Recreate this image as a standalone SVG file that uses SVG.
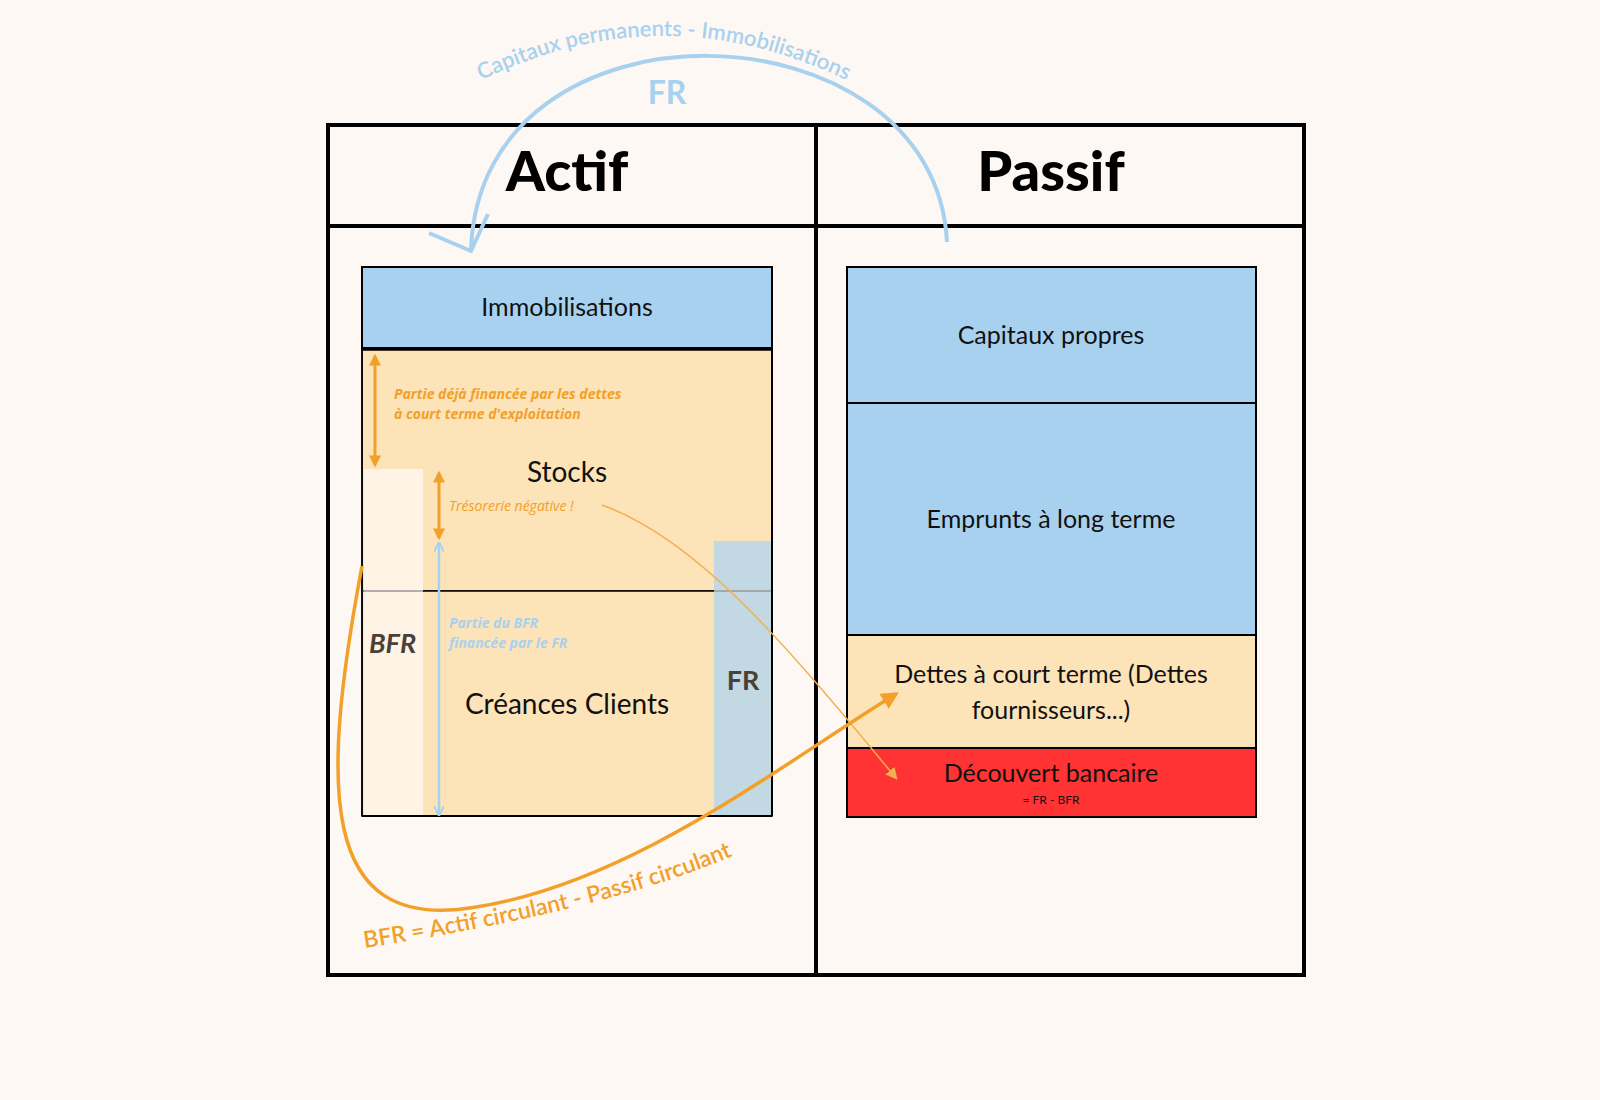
<svg xmlns="http://www.w3.org/2000/svg" width="1600" height="1100" viewBox="0 0 1600 1100">
<style>
text{font-family:Lato,"Open Sans","Liberation Sans",sans-serif}
.lbl{font-size:25px;fill:#111;text-anchor:middle}
.hd{font-size:56px;font-weight:900;fill:#000;text-anchor:middle}
.ann{font-family:"Open Sans",Lato,sans-serif;font-size:14px;font-weight:bold;font-style:italic;fill:#f2a02a}
.annb{font-family:"Open Sans",Lato,sans-serif;font-size:14px;font-weight:bold;font-style:italic;fill:#a8d1f0}
.big{font-size:27px;font-weight:bold;fill:#4a4036}
</style>
<defs>
<marker id="ao" viewBox="0 0 10 10" refX="8" refY="5" markerWidth="4" markerHeight="4" orient="auto-start-reverse"><path d="M0,0 L10,5 L0,10 z" fill="#f2a02a"/></marker>
<marker id="ab" viewBox="0 0 10 10" refX="8" refY="5" markerWidth="4" markerHeight="4" orient="auto-start-reverse"><path d="M0,0 L10,5 L0,10" fill="none" stroke="#a8d1f0" stroke-width="2"/></marker>
<marker id="ao2" viewBox="0 0 10 10" refX="8" refY="5" markerWidth="5" markerHeight="5" orient="auto"><path d="M0,0 L10,5 L0,10 z" fill="#f2a02a"/></marker>
<marker id="ao3" viewBox="0 0 10 10" refX="8" refY="5" markerWidth="8" markerHeight="8" orient="auto"><path d="M0,0 L10,5 L0,10 z" fill="#f2b050"/></marker>
<path id="tpBlue" d="M470,86 Q663,-14 858,86"/>
<path id="tpOr" d="M365,948 C480,930 640,900 750,848"/>
</defs>
<rect width="1600" height="1100" fill="#fdf8f3"/>
<g id="frame" fill="none" stroke="#000" stroke-width="4">
<rect x="328" y="125" width="976" height="850"/>
<line x1="816" y1="125" x2="816" y2="975"/>
<line x1="328" y1="226" x2="1304" y2="226"/>
</g>
<text class="hd" x="567" y="191">Actif</text>
<text class="hd" x="1051" y="191">Passif</text>
<g id="immobilisations"><rect x="362" y="267" width="410" height="82" fill="#a8d1f0" stroke="#000" stroke-width="2"/><line x1="362" y1="349" x2="772" y2="349" stroke="#000" stroke-width="4"/><text class="lbl" x="567" y="316">Immobilisations</text></g>
<g id="stocks"><rect x="362" y="350" width="410" height="241" fill="#fde3b8" stroke="#000" stroke-width="1.5"/><text class="lbl" x="567" y="482" style="font-size:28px">Stocks</text></g>
<g id="creances"><rect x="362" y="591" width="410" height="225" fill="#fde3b8" stroke="#000" stroke-width="1.5"/><text class="lbl" x="567" y="714" style="font-size:28px">Créances Clients</text></g>
<g id="bfr"><rect x="364" y="469" width="59" height="346" fill="#fff3e6"/><line x1="362" y1="591" x2="423" y2="591" stroke="#999" stroke-width="1.5"/><text class="big" x="369" y="653" font-style="italic">BFR</text></g>
<g id="fr"><rect x="714" y="541" width="57" height="274" fill="#c2d9e3"/><line x1="714" y1="591" x2="771" y2="591" stroke="#999" stroke-width="1.5"/><text class="big" x="743" y="690" text-anchor="middle">FR</text></g>
<line x1="362" y1="267" x2="362" y2="816" stroke="#000" stroke-width="1.5"/>
<line x1="362" y1="816" x2="772" y2="816" stroke="#000" stroke-width="2"/>
<line x1="772" y1="267" x2="772" y2="816" stroke="#000" stroke-width="2"/>
<g id="capitaux"><rect x="847" y="267" width="409" height="136" fill="#a8d1f0" stroke="#000" stroke-width="2"/><text class="lbl" x="1051" y="344">Capitaux propres</text></g>
<g id="emprunts"><rect x="847" y="403" width="409" height="232" fill="#a8d1f0" stroke="#000" stroke-width="2"/><text class="lbl" x="1051" y="528">Emprunts à long terme</text></g>
<g id="dettes"><rect x="847" y="635" width="409" height="113" fill="#fde3b8" stroke="#000" stroke-width="2"/><text class="lbl" x="1051" y="683">Dettes à court terme (Dettes</text><text class="lbl" x="1051" y="719">fournisseurs...)</text></g>
<g id="decouvert"><rect x="847" y="748" width="409" height="69" fill="#ff3333" stroke="#000" stroke-width="2"/><text class="lbl" x="1051" y="782">Découvert bancaire</text><text x="1051" y="804" text-anchor="middle" font-size="12" fill="#111">= FR - BFR</text></g>
<g id="connectors" fill="none">
<line x1="375" y1="356" x2="375" y2="465" stroke="#f2a02a" stroke-width="3" marker-start="url(#ao)" marker-end="url(#ao)"/>
<line x1="439" y1="473" x2="439" y2="538" stroke="#f2a02a" stroke-width="3" marker-start="url(#ao)" marker-end="url(#ao)"/>
<line x1="439" y1="544" x2="439" y2="814" stroke="#a8d1f0" stroke-width="2.5" marker-start="url(#ab)" marker-end="url(#ab)"/>
<path d="M602,505 C700,540 790,650 896,778" stroke="#f2b050" stroke-width="1.5" marker-end="url(#ao3)"/>
<path d="M362,566 C320,790 320,930 470,908 C630,885 780,765 896,694" stroke="#f2a02a" stroke-width="3.5" marker-end="url(#ao2)"/>
<path d="M947,242 C935,0 480,-15 471,250" stroke="#a8d1f0" stroke-width="4"/>
<path d="M429,233 L471,251 L488,214" stroke="#a8d1f0" stroke-width="4"/>
</g>
<text class="ann" x="394" y="399">Partie déjà financée par les dettes</text>
<text class="ann" x="394" y="419">à court terme d'exploitation</text>
<text class="ann" x="449" y="511" style="font-weight:normal">Trésorerie négative !</text>
<text class="annb" x="449" y="628">Partie du BFR</text>
<text class="annb" x="449" y="648">financée par le FR</text>
<text font-size="22" font-weight="600" fill="#a8d1f0"><textPath href="#tpBlue" startOffset="50%" text-anchor="middle">Capitaux permanents - Immobilisations</textPath></text>
<text x="667" y="104" text-anchor="middle" font-size="32" font-weight="bold" fill="#a8d1f0">FR</text>
<text font-size="23" font-weight="600" fill="#f2a02a"><textPath href="#tpOr" startOffset="0">BFR = Actif circulant -  Passif circulant</textPath></text>
</svg>
